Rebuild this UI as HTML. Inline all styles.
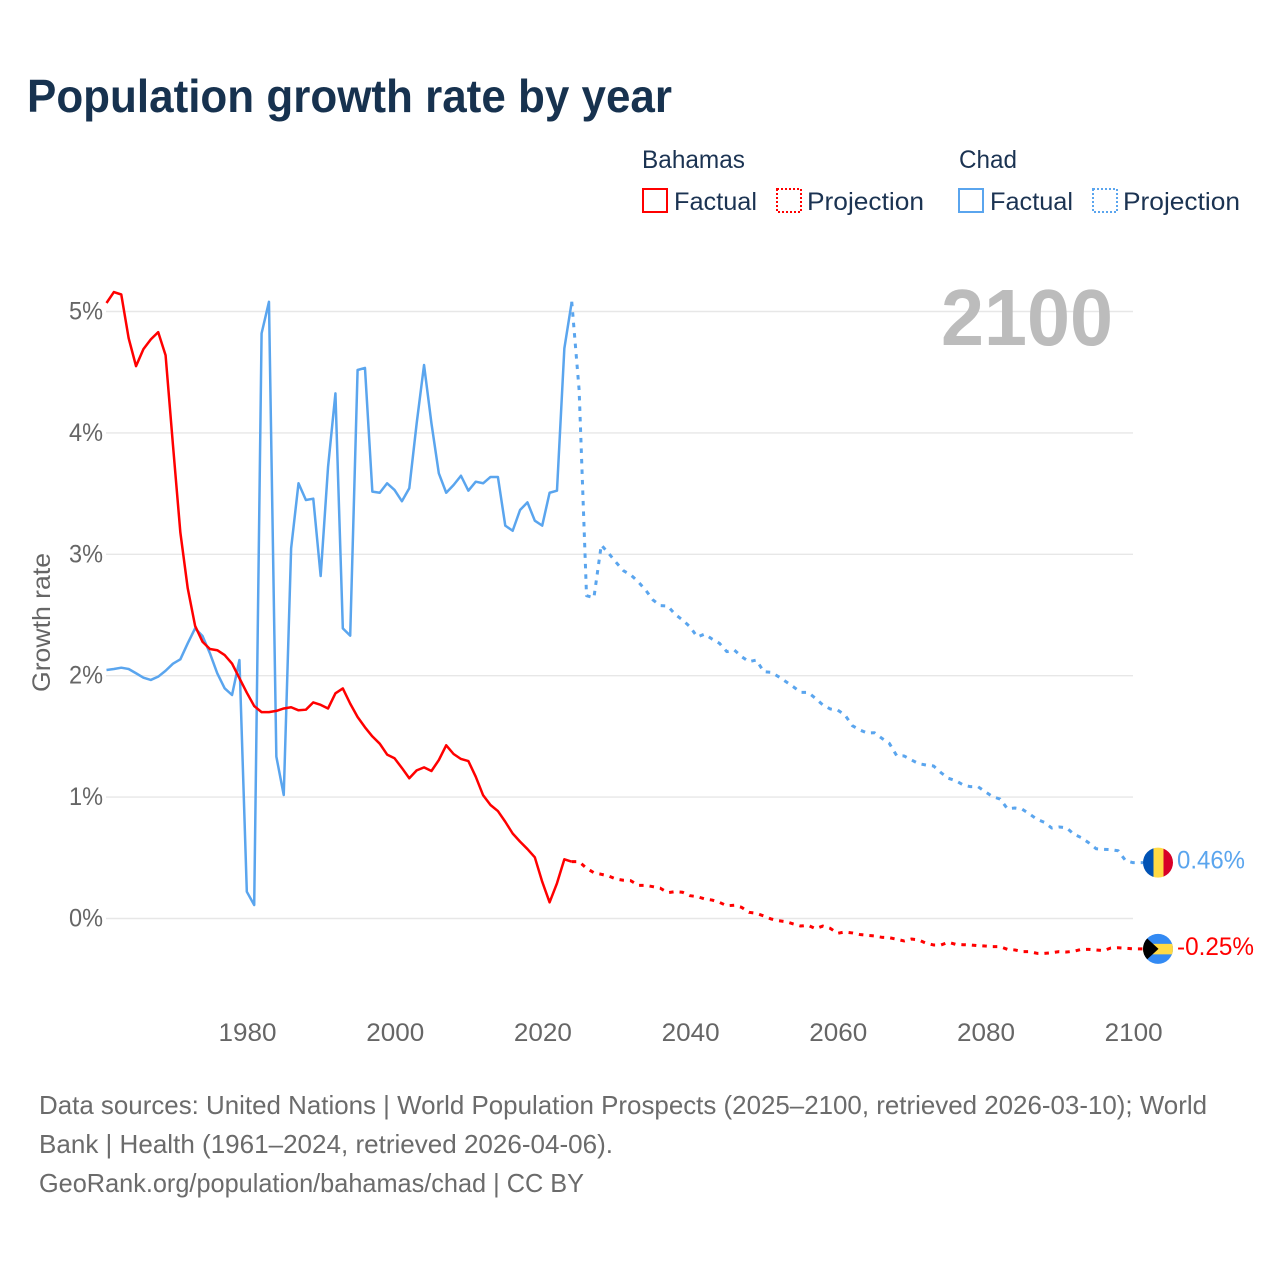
<!DOCTYPE html>
<html lang="en">
<head>
<meta charset="utf-8">
<title>Population growth rate by year</title>
<style>
html,body{margin:0;padding:0;background:#fff;width:1280px;height:1280px;overflow:hidden}
svg{display:block}
text{font-family:"Liberation Sans",sans-serif}
</style>
</head>
<body>
<svg id="chart" xmlns="http://www.w3.org/2000/svg" width="1280" height="1280" viewBox="0 0 1280 1280">
  <rect x="0" y="0" width="1280" height="1280" fill="#fff"/>
  <text x="27" y="112" font-size="46" font-weight="700" fill="#17324f" textLength="645" lengthAdjust="spacingAndGlyphs">Population growth rate by year</text>

  <g font-size="25" fill="#1b3352">
    <text x="642" y="168" textLength="103" lengthAdjust="spacingAndGlyphs">Bahamas</text>
    <text x="959" y="168" textLength="58" lengthAdjust="spacingAndGlyphs">Chad</text>
    <rect x="643" y="189" width="24" height="23" fill="none" stroke="#ff0000" stroke-width="2"/>
    <text x="674" y="210" textLength="83" lengthAdjust="spacingAndGlyphs">Factual</text>
    <rect x="777" y="189" width="24" height="23" fill="none" stroke="#ff0000" stroke-width="2" stroke-dasharray="2 2"/>
    <text x="807" y="210" textLength="117" lengthAdjust="spacingAndGlyphs">Projection</text>
    <rect x="959" y="189" width="24" height="23" fill="none" stroke="#5aa5ee" stroke-width="2"/>
    <text x="990" y="210" textLength="83" lengthAdjust="spacingAndGlyphs">Factual</text>
    <rect x="1093" y="189" width="24" height="23" fill="none" stroke="#5aa5ee" stroke-width="2" stroke-dasharray="2 2"/>
    <text x="1123" y="210" textLength="117" lengthAdjust="spacingAndGlyphs">Projection</text>
  </g>

  <g id="grid"></g>
  <g id="y-ticks"></g>
  <g id="x-ticks"></g>

  <text transform="translate(50 692) rotate(-90)" x="0" y="0" font-size="25" fill="#666" textLength="139" lengthAdjust="spacingAndGlyphs">Growth rate</text>
  <text x="941" y="345" font-size="80" font-weight="700" fill="#bcbcbc" textLength="172" lengthAdjust="spacingAndGlyphs">2100</text>

  <g id="series"></g>

  <defs>
    <clipPath id="flag-clip-chad"><circle id="clip-circle-chad" cx="1158" cy="862" r="15"/></clipPath>
    <clipPath id="flag-clip-bahamas"><circle id="clip-circle-bahamas" cx="1158" cy="948" r="15"/></clipPath>
  </defs>
  <g id="flag-chad" clip-path="url(#flag-clip-chad)">
    <rect x="1143" y="840" width="10.5" height="44" fill="#0052b4"/>
    <rect x="1153.5" y="840" width="10" height="44" fill="#ffda44"/>
    <rect x="1163.5" y="840" width="10" height="44" fill="#d80027"/>
  </g>
  <g id="flag-bahamas" clip-path="url(#flag-clip-bahamas)">
    <rect x="1143" y="926" width="31" height="44" fill="#338af3"/>
    <rect x="1143" y="943" width="31" height="10.5" fill="#ffda44"/>
    <polygon points="1140,931 1158.5,948 1140,965" fill="#000"/>
  </g>
  <text id="end-label-chad" x="1177" y="868" font-size="25" fill="#5aa5ee" textLength="68" lengthAdjust="spacingAndGlyphs"></text>
  <text id="end-label-bahamas" x="1177" y="954" font-size="25" fill="#ff0000" textLength="77" lengthAdjust="spacingAndGlyphs"></text>

  <g font-size="26" fill="#6b6b6b">
    <text x="39" y="1114" textLength="1168" lengthAdjust="spacingAndGlyphs">Data sources: United Nations | World Population Prospects (2025–2100, retrieved 2026-03-10); World</text>
    <text x="39" y="1153" textLength="574" lengthAdjust="spacingAndGlyphs">Bank | Health (1961–2024, retrieved 2026-04-06).</text>
    <text x="39" y="1192" textLength="545" lengthAdjust="spacingAndGlyphs">GeoRank.org/population/bahamas/chad | CC BY</text>
  </g>
</svg>
<script>
var firstFactualYear = 1961;
var firstProjectionYear = 2025;
var yTickValues = [0, 1, 2, 3, 4, 5];
var xTickValues = [1980, 2000, 2020, 2040, 2060, 2080, 2100];

var bahamasFactual = [5.07,5.16,5.14,4.78,4.55,4.69,4.77,4.83,4.64,3.90,3.18,2.72,2.41,2.28,2.22,2.21,2.17,2.10,1.98,1.86,
  1.75,1.70,1.70,1.71,1.73,1.74,1.715,1.72,1.78,1.76,1.73,1.855,1.895,1.77,1.66,1.575,1.50,1.44,1.35,1.32,
  1.24,1.155,1.22,1.245,1.215,1.305,1.427,1.355,1.314,1.297,1.168,1.015,0.935,0.885,0.797,0.70,0.633,0.572,0.504,0.303,
  0.133,0.29,0.488,0.468];

var bahamasProjection = [0.468,0.414,0.377,0.364,0.35,0.325,0.315,0.311,0.273,0.273,0.262,0.249,0.213,0.221,0.216,0.188,
  0.18,0.161,0.152,0.133,0.105,0.109,0.092,0.051,0.043,0.021,-0.004,-0.018,-0.026,-0.045,-0.062,-0.056,-0.084,-0.062,-0.081,-0.122,
  -0.111,-0.119,-0.132,-0.138,-0.144,-0.155,-0.158,-0.171,-0.185,-0.169,-0.177,-0.204,-0.218,-0.218,-0.196,-0.213,-0.216,-0.218,-0.224,-0.227,
  -0.232,-0.232,-0.254,-0.259,-0.273,-0.273,-0.287,-0.287,-0.282,-0.273,-0.276,-0.27,-0.254,-0.254,-0.259,-0.265,-0.243,-0.241,-0.245,-0.25];

var chadFactual = [2.047,2.055,2.066,2.055,2.02,1.984,1.965,1.992,2.041,2.099,2.135,2.267,2.39,2.327,2.185,2.02,1.896,1.841,2.129,0.221,
  0.111,4.82,5.08,1.333,1.017,3.049,3.585,3.447,3.458,2.821,3.719,4.326,2.39,2.33,4.518,4.535,3.516,3.507,3.585,3.53,
  3.437,3.544,4.079,4.559,4.079,3.667,3.507,3.571,3.647,3.524,3.598,3.585,3.637,3.637,3.236,3.194,3.365,3.428,3.277,3.236,
  3.507,3.524,4.697,5.08];

var chadProjection = [4.353,2.659,2.642,3.077,3.008,2.934,2.865,2.83,2.774,2.706,2.624,2.577,2.574,2.506,2.459,2.404,
  2.319,2.343,2.302,2.267,2.198,2.212,2.157,2.115,2.129,2.033,2.028,1.992,1.951,1.909,1.863,1.863,1.814,1.759,1.726,1.717,
  1.676,1.588,1.553,1.528,1.53,1.484,1.443,1.341,1.339,1.306,1.275,1.264,1.256,1.201,1.155,1.135,1.10,1.086,1.086,1.044,
  1.003,0.984,0.904,0.91,0.90,0.861,0.817,0.792,0.745,0.754,0.748,0.694,0.666,0.624,0.575,0.57,0.567,0.558,0.476,0.46];

var SVG_NS = 'http://www.w3.org/2000/svg';
function xScale(year) { return 106.5 + (year - 1961) * (1133 - 106.5) / (2100 - 1961); }
function yScale(value) { return 918.5 - value * 121.4; }
function make(tag, attrs, parent) {
  var el = document.createElementNS(SVG_NS, tag);
  for (var k in attrs) { el.setAttribute(k, attrs[k]); }
  parent.appendChild(el);
  return el;
}

var gridGroup = document.getElementById('grid');
var yTickGroup = document.getElementById('y-ticks');
var xTickGroup = document.getElementById('x-ticks');
var seriesGroup = document.getElementById('series');

yTickValues.forEach(function (v) {
  var line = make('line', {x1: 106, x2: 1133, y1: yScale(v), y2: yScale(v), stroke: '#e7e7e7', 'stroke-width': 1.4}, gridGroup);
  
  
  var label = make('text', {x: 69, y: yScale(v) + 8, 'font-size': 25, fill: '#666', textLength: 34, lengthAdjust: 'spacingAndGlyphs'}, yTickGroup);
  label.textContent = v + '%';
  
  
});

xTickValues.forEach(function (yr) {
  var label = make('text', {x: xScale(yr) + 0.7, y: 1041, 'font-size': 25, fill: '#666', 'text-anchor': 'middle', textLength: 58, lengthAdjust: 'spacingAndGlyphs'}, xTickGroup);
  label.textContent = String(yr);
  
  
});

function linePath(values, startYear, prefix, suffixX) {
  var d = prefix || '';
  values.forEach(function (v, i) {
    d += (d === '' ? 'M' : 'L') + xScale(startYear + i).toFixed(2) + ' ' + yScale(v).toFixed(2);
  });
  if (suffixX) { d += 'L' + suffixX + ' ' + yScale(values[values.length - 1]).toFixed(2); }
  return d;
}
function startPoint(values, startYear) {
  var i = values.length - 1;
  return 'M' + xScale(startYear + i).toFixed(2) + ' ' + yScale(values[i]).toFixed(2);
}

var lineAttrs = {fill: 'none', 'stroke-linejoin': 'round'};
function addLine(d, color, dashed) {
  var attrs = {d: d, stroke: color, 'stroke-width': dashed ? 3 : 2.5};
  for (var k in lineAttrs) { attrs[k] = lineAttrs[k]; }
  if (dashed) { attrs['stroke-dasharray'] = '4.5 6'; }
  return make('path', attrs, seriesGroup);
}

var chadProjLine = addLine(linePath(chadProjection, firstProjectionYear, startPoint(chadFactual, firstFactualYear), 1143), '#5aa5ee', true);



var chadLine = addLine(linePath(chadFactual, firstFactualYear), '#5aa5ee', false);



var bahamasProjLine = addLine(linePath(bahamasProjection, firstProjectionYear, startPoint(bahamasFactual, firstFactualYear), 1143), '#ff0000', true);



var bahamasLine = addLine(linePath(bahamasFactual, firstFactualYear), '#ff0000', false);



var chadEnd = chadProjection[chadProjection.length - 1];
var bahamasEnd = bahamasProjection[bahamasProjection.length - 1];
document.getElementById('end-label-chad').textContent = chadEnd.toFixed(2) + '%';
document.getElementById('end-label-chad').setAttribute('y', (yScale(chadEnd) + 6).toFixed(2));
document.getElementById('end-label-bahamas').textContent = bahamasEnd.toFixed(2) + '%';
document.getElementById('end-label-bahamas').setAttribute('y', (yScale(bahamasEnd) + 6).toFixed(2));
document.getElementById('flag-chad').setAttribute('transform', 'translate(0 ' + (yScale(chadEnd) - 862).toFixed(2) + ')');
document.getElementById('flag-bahamas').setAttribute('transform', 'translate(0 ' + (yScale(bahamasEnd) - 948).toFixed(2) + ')');
</script>
</body>
</html>
